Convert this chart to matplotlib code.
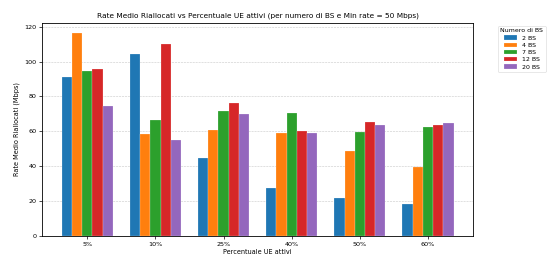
import matplotlib.pyplot as plt
import numpy as np

percentuali = ["5%", "10%", "25%", "40%", "50%", "60%"]
bs_labels = ["2 BS", "4 BS", "7 BS", "12 BS", "20 BS"]

# rate medio riallocato (Mbps) per numero di BS
rate_2bs = [91.2, 104.2, 44.5, 27.7, 21.6, 18.5]
rate_4bs = [116.4, 58.6, 60.7, 59.2, 48.7, 39.3]
rate_7bs = [94.3, 66.4, 71.9, 70.6, 59.7, 62.6]
rate_12bs = [95.6, 110.3, 76.5, 60.3, 65.3, 63.5]
rate_20bs = [74.4, 54.8, 70.0, 59.0, 63.7, 64.9]

series = [rate_2bs, rate_4bs, rate_7bs, rate_12bs, rate_20bs]
colors = ["#1f77b4", "#ff7f0e", "#2ca02c", "#d62728", "#9467bd"]

fig = plt.figure(figsize=(5.47, 2.56), dpi=100)
ax = fig.add_axes([0.077, 0.078, 0.788, 0.833])

x = np.arange(len(percentuali))
width = 0.15
for i, (vals, lab) in enumerate(zip(series, bs_labels)):
    offset = (i - 2) * width
    ax.bar(x + offset, vals, width, label=lab, color=colors[i],
           edgecolor=(1, 1, 1, 0.6), linewidth=0.25)

ax.set_xticks(x)
ax.set_xticklabels(percentuali)
ax.tick_params(labelsize=4.6, length=2, width=0.5, pad=2)
ax.set_xlabel("Percentuale UE attivi", fontsize=4.7, labelpad=2)
ax.set_ylabel("Rate Medio Riallocati (Mbps)", fontsize=4.7, labelpad=3)
ax.set_title("Rate Medio Riallocati vs Percentuale UE attivi (per numero di BS e Min rate = 50 Mbps)",
             fontsize=5.3, pad=4)
ax.grid(axis="y", linestyle="--", linewidth=0.4, alpha=0.7)
ax.set_axisbelow(True)
for sp in ax.spines.values():
    sp.set_linewidth(0.6)

leg = ax.legend(title="Numero di BS", bbox_to_anchor=(1.05, 1), loc="upper left",
                fontsize=4.5, title_fontsize=4.5, handlelength=2, handleheight=0.7,
                borderpad=0.4, labelspacing=0.3)
leg.get_frame().set_linewidth(0.4)

plt.savefig("out.png", dpi=100)
